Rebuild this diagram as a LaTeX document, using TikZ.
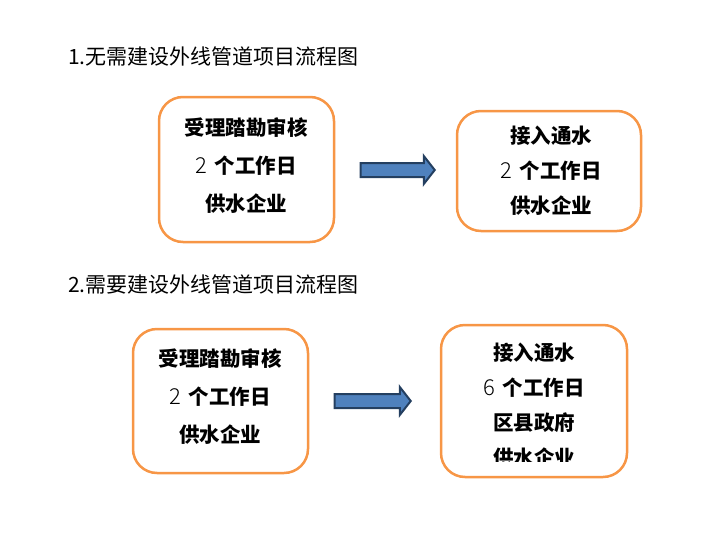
\documentclass[tikz,border=0pt]{standalone}
\usepackage{fontspec}
\usepackage{xcolor}
\usetikzlibrary{positioning, shapes.arrows}
\newfontfamily\cjk{Noto Sans CJK SC}
\newfontfamily\cjklight{Noto Sans CJK SC Light}
\definecolor{boxorange}{HTML}{F79646}
\definecolor{arrowblue}{HTML}{4F81BD}
\definecolor{arrowedge}{HTML}{243F60}

\begin{document}
\begin{tikzpicture}[x=1pt, y=-1pt, every node/.style={font=\cjk}]
  \tikzset{stagebox/.style={draw=boxorange, line width=2.5pt, rounded corners=24pt, fill=white, inner sep=0pt},
    stagetext/.style={align=center, inner sep=0pt, font=\cjk\bfseries\fontsize{20.5}{38}\selectfont},
    title/.style={anchor=west, inner sep=0pt, font=\cjk\fontsize{21}{24}\selectfont},
    flow/.style={single arrow, draw=arrowedge, fill=arrowblue, line width=2pt, inner xsep=0pt, inner ysep=6pt,
      single arrow head extend=7pt, single arrow tip angle=104}}
  \newcommand{\num}[1]{{\cjklight\mdseries\fontsize{22}{38}\selectfont #1}\kern8pt}
  \useasboundingbox (0,0) rectangle (723,541);

  % no outside pipeline
  \node[title] (t1) at (68,57) {1.无需建设外线管道项目流程图};
  \node[stagebox, minimum width=175pt, minimum height=145pt] (a1) at (246.5,169.5) {};
  \node[stagetext] (a1t) at (246,166) {受理踏勘审核\\\num{2}个工作日\\供水企业};
  \node[flow, minimum height=74pt] (f1) at (395,170) {};
  \node[stagebox, minimum width=184pt, minimum height=120pt] (b1) at (549,171) {};
  \node[stagetext, font=\cjk\bfseries\fontsize{20.5}{35}\selectfont] (b1t) at (551,171) {接入通水\\\num{2}个工作日\\供水企业};

  % outside pipeline needed
  \node[title] (t2) at (68,285) {2.需要建设外线管道项目流程图};
  \node[stagebox, minimum width=175pt, minimum height=144pt] (a2) at (220.5,401) {};
  \node[stagetext] (a2t) at (220,397) {受理踏勘审核\\\num{2}个工作日\\供水企业};
  \node[flow, minimum height=76pt] (f2) at (370,401) {};
  \node[stagebox, minimum width=186pt, minimum height=152pt] (b2) at (534,401) {};
  \begin{scope}
    \clip (441,325) rectangle (627,461);
    \node[stagetext, font=\cjk\bfseries\fontsize{20.5}{35}\selectfont] (b2t) at (534,405) {接入通水\\\num{6}个工作日\\区县政府\\供水企业};
  \end{scope}
\end{tikzpicture}
\end{document}
